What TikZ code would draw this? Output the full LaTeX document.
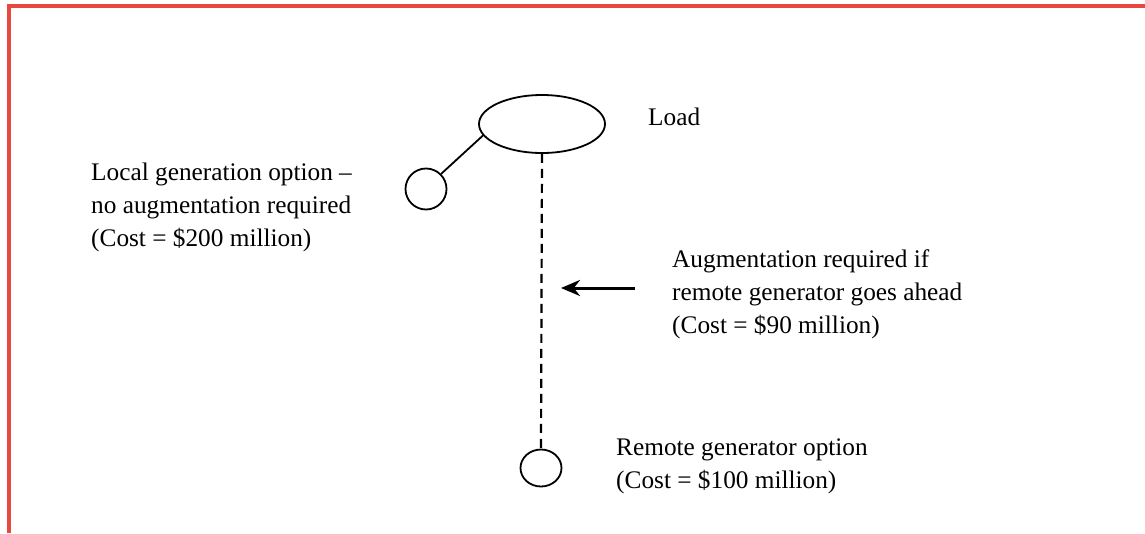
\documentclass[tikz,border=0pt]{standalone}
\usepackage{fontspec}
\setmainfont{Liberation Serif}
\usetikzlibrary{shapes.geometric,arrows.meta}
\definecolor{frame}{RGB}{232,72,62}
\tikzset{
  label text/.style={anchor=base west, inner sep=0pt, align=left,
    font=\fontsize{25.3}{33}\selectfont},
  ring/.style={draw, line width=1.8pt, inner sep=0pt},
}
\begin{document}
\begin{tikzpicture}[x=1pt,y=-1pt]
  \useasboundingbox (0,0) rectangle (1145,533);
  % partial frame: top and left edges
  \draw[frame, line width=4pt] (9,533) -- (9,6) -- (1145,6);

  % network elements
  \node[ring, ellipse, minimum width=126pt, minimum height=58pt] (load) at (542,124) {};
  \node[ring, circle, minimum size=41pt] (local) at (426,189) {};
  \node[ring, ellipse, minimum width=41pt, minimum height=37pt] (remote) at (541,468) {};

  \draw[line width=1.8pt] (load.191) -- (local.45);
  \draw[line width=2.2pt, dash pattern=on 9pt off 6pt] (load.south) -- (remote.north);

  % pointer to the augmentation line
  \coordinate (tail) at (635,288);
  \coordinate (tip) at (561,288);
  \draw[line width=3pt, -{Stealth[length=19pt, width=16pt]}] (tail) -- (tip);

  % labels (anchored at the baseline of the last line)
  \node[label text] (loadtxt) at (648,125) {Load};
  \node[label text] (localtxt) at (91,246) {Local generation option --\\no augmentation required\\(Cost = \$200 million)};
  \node[label text] (augtxt) at (672,333) {Augmentation required if\\remote generator goes ahead\\(Cost = \$90 million)};
  \node[label text] (remtxt) at (616,488) {Remote generator option\\(Cost = \$100 million)};
\end{tikzpicture}
\end{document}
